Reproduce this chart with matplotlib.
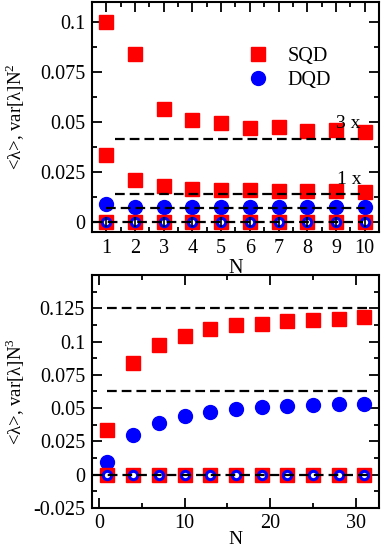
import matplotlib
matplotlib.use("Agg")
import matplotlib.pyplot as plt
from matplotlib.lines import Line2D
from matplotlib.ticker import MultipleLocator, FormatStrFormatter, FuncFormatter

plt.rcParams["font.family"] = ["Liberation Serif", "DejaVu Serif"]
plt.rcParams["mathtext.fontset"] = "custom"
plt.rcParams["mathtext.rm"] = "Liberation Serif"
plt.rcParams["axes.unicode_minus"] = False
plt.rcParams["lines.scale_dashes"] = False

# top panel: values scaled by N^2
n_top = [1, 2, 3, 4, 5, 6, 7, 8, 9, 10]
sqd_upper_top = [0.100, 0.084, 0.0567, 0.0512, 0.0497, 0.0470, 0.0475, 0.0457, 0.0460, 0.0448]
sqd_lower_top = [0.0335, 0.0208, 0.0178, 0.0167, 0.0162, 0.0158, 0.0157, 0.0155, 0.0153, 0.0152]
dqd_top = [0.0088, 0.0075, 0.0075, 0.0075, 0.0075, 0.0075, 0.0075, 0.0075, 0.0075, 0.0075]
zero_top = [0.0] * len(n_top)
ref_levels_top = [1 / 24, 1 / 72, 0.0069]

# bottom panel: values scaled by N^3
n_bot = [1, 4, 7, 10, 13, 16, 19, 22, 25, 28, 31]
sqd_bot = [0.0333, 0.0837, 0.0977, 0.1045, 0.1096, 0.1122, 0.1134, 0.1152, 0.1165, 0.1172, 0.1185]
dqd_bot = [0.0092, 0.0300, 0.0389, 0.0440, 0.0473, 0.0493, 0.0511, 0.0519, 0.0524, 0.0529, 0.0529]
zero_bot = [0.0] * len(n_bot)
ref_levels_bot = [0.125, 0.0625]

RED = "#ff0000"
BLUE = "#0000ff"
DASH = (7, 3.6)
FS = 14.5


def style_axes(ax, xmajor, xminor, ymajor, yminor, ymax_label=None):
    ax.xaxis.set_major_locator(MultipleLocator(xmajor))
    ax.xaxis.set_minor_locator(MultipleLocator(xminor))
    ax.yaxis.set_major_locator(MultipleLocator(ymajor))
    ax.yaxis.set_minor_locator(MultipleLocator(yminor))
    if ymax_label is None:
        ax.yaxis.set_major_formatter(FormatStrFormatter("%g"))
    else:
        ax.yaxis.set_major_formatter(
            FuncFormatter(lambda v, p: "" if v > ymax_label + 1e-9 else "%g" % round(v, 6)))
    ax.xaxis.set_major_formatter(FormatStrFormatter("%g"))
    ax.tick_params(which="both", direction="in", top=True, right=True, width=1.3,
                   labelsize=FS, pad=5)
    ax.tick_params(which="major", length=7)
    ax.tick_params(which="minor", length=3.5)
    for sp in ax.spines.values():
        sp.set_linewidth(1.5)


def zero_markers(ax, n, zeros, cross=False):
    ax.plot(n, zeros, "s", color=RED, ms=9.5, zorder=2)
    ax.plot(n, zeros, "o", mfc="white", mec=BLUE, mew=2.2, ms=6, zorder=3)
    if cross:
        ax.plot(n, zeros, "|", color="black", ms=7, mew=1.2, zorder=4)


fig = plt.figure(figsize=(3.82, 5.53), dpi=100)
ax1 = fig.add_axes([0.2408, 0.5805, 0.7513, 0.4159])
ax2 = fig.add_axes([0.2408, 0.0814, 0.7513, 0.4213])

# top panel
ax1.plot(n_top, sqd_upper_top, "s", color=RED, ms=9.5, zorder=2)
ax1.plot(n_top, sqd_lower_top, "s", color=RED, ms=9.5, zorder=2)
ax1.plot(n_top, dqd_top, "o", color=BLUE, ms=10, zorder=2)
zero_markers(ax1, n_top, zero_top, cross=True)
ax1.plot([1.3, 9.8], [ref_levels_top[0]] * 2, color="black", lw=1.6, dashes=DASH, zorder=5)
ax1.plot([1.3, 9.85], [ref_levels_top[1]] * 2, color="black", lw=1.6, dashes=DASH, zorder=5)
ax1.plot([1.0, 10.0], [ref_levels_top[2]] * 2, color="black", lw=1.6, dashes=DASH, zorder=5)
ax1.plot([0.55, 9.95], [0, 0], color="black", lw=1.6, dashes=DASH, zorder=5)
ax1.text(9.0, 0.049, "3 x", fontsize=14, va="center", ha="left")
ax1.text(9.03, 0.021, "1 x", fontsize=14, va="center", ha="left")
ax1.set_xlim(0.5, 10.5)
ax1.set_ylim(-0.005, 0.11)
style_axes(ax1, 1, 0.5, 0.025, 0.0125)
ax1.set_xlabel("N", fontsize=FS, labelpad=1)
ax1.set_ylabel("<λ>, var[λ]N$^2$", fontsize=13.5)
ax1.yaxis.set_label_coords(-0.225, 0.5)

handles = [
    Line2D([], [], ls="none", marker="s", color=RED, ms=9.5),
    Line2D([], [], ls="none", marker="o", color=BLUE, ms=10),
]
ax1.legend(handles, ["SQD", "DQD"], loc="center left", bbox_to_anchor=(0.542, 0.711),
           frameon=False, fontsize=FS, handlelength=1.0, handletextpad=1.0,
           labelspacing=0.2, borderpad=0, borderaxespad=0)

# bottom panel
ax2.plot(n_bot, sqd_bot, "s", color=RED, ms=9.5, zorder=2)
ax2.plot(n_bot, dqd_bot, "o", color=BLUE, ms=10, zorder=2)
zero_markers(ax2, n_bot, zero_bot)
for lvl in ref_levels_bot:
    ax2.plot([1.0, 31.4], [lvl, lvl], color="black", lw=1.6, dashes=DASH, zorder=5)
ax2.plot([-0.7, 31.4], [0, 0], color="black", lw=1.6, dashes=DASH, zorder=5)
ax2.set_xlim(-0.8, 32.7)
ax2.set_ylim(-0.025, 0.15)
style_axes(ax2, 10, 5, 0.025, 0.0125, ymax_label=0.125)
ax2.tick_params(axis="x", pad=4)
ax2.set_xlabel("N", fontsize=14, labelpad=-1)
ax2.set_ylabel("<λ>, var[λ]N$^3$", fontsize=13.5)
ax2.yaxis.set_label_coords(-0.225, 0.5)

fig.savefig("out.png", dpi=100)
